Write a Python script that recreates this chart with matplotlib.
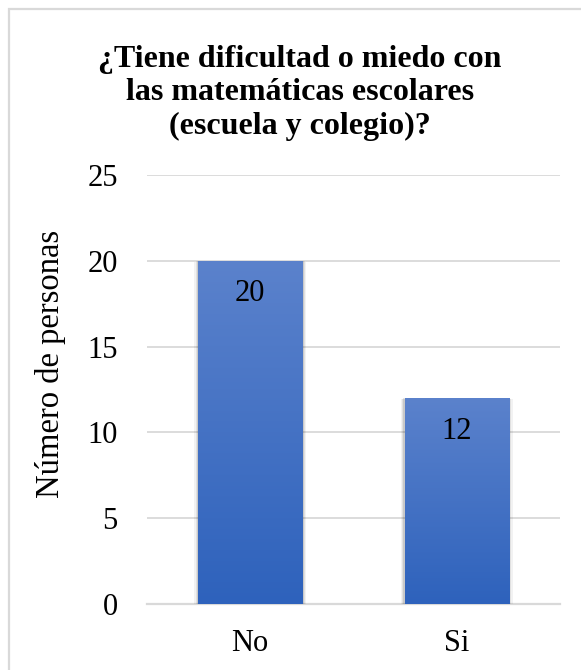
import matplotlib
matplotlib.use("Agg")
import matplotlib.pyplot as plt
import numpy as np
from matplotlib.patches import Rectangle
from matplotlib.colors import LinearSegmentedColormap

categories = ["No", "Si"]
values = [20, 12]
yticks = [0, 5, 10, 15, 20, 25]
title = "¿Tiene dificultad o miedo con\nlas matemáticas escolares\n(escuela y colegio)?"
ylabel = "Número de personas"

plt.rcParams['font.family'] = ['Liberation Serif', 'DejaVu Serif']

W, H = 581, 670
fig = plt.figure(figsize=(W/100, H/100), dpi=100)
ax = fig.add_axes([147/W, 1-604/H, (560-147)/W, (604-175)/H])

# figure border (left/top visible)
fig.patches.append(Rectangle((9/W, -0.1), 1.2, (1-9/H)+0.1, transform=fig.transFigure,
                             fill=False, edgecolor='#D9D9D9', linewidth=1.6, zorder=0))

x = np.arange(len(categories))
width = 0.505
cmap = LinearSegmentedColormap.from_list('g', ['#2E62BC', '#5B82CC'])
grad = np.linspace(0, 1, 256).reshape(-1, 1)

bars = ax.bar(x, values, width=width, color='#3A6BC2', zorder=3, linewidth=0)
for b in bars:
    bx, by = b.get_x(), b.get_y()
    bw, bh = b.get_width(), b.get_height()
    # shadow
    for d, a in [(0.03, 0.05), (0.02, 0.07), (0.01, 0.10)]:
        sh = Rectangle((bx - d*0.6, by - d*4), bw + 2*d*0.6, bh + d*2, facecolor='#000000',
                       alpha=a, linewidth=0, zorder=2)
        ax.add_patch(sh)
    im = ax.imshow(grad, cmap=cmap, origin='lower', aspect='auto',
                   extent=(bx, bx + bw, by, by + bh), zorder=3.5)
    im.set_clip_path(b)

for xi, v in zip(x, values):
    ax.annotate(str(v), (xi, v), xytext=(0, -33), textcoords='offset pixels',
                ha='center', va='center', fontsize=22, color='black', zorder=5)

ax.set_xlim(-0.5, 1.5)
ax.set_ylim(0, 25)
ax.set_yticks(yticks)
ax.set_xticks(x)
ax.set_xticklabels(categories)
ax.tick_params(axis='y', length=0, pad=21, labelsize=22)
ax.tick_params(axis='x', length=0, pad=18, labelsize=22)
ax.yaxis.grid(True, color='#D9D9D9', linewidth=1.3, zorder=0)
ax.set_axisbelow(True)
for s in ['top', 'right', 'left']:
    ax.spines[s].set_visible(False)
ax.spines['bottom'].set_color('#D9D9D9')
ax.spines['bottom'].set_linewidth(1.6)
ax.spines['bottom'].set_zorder(1)

ax.set_ylabel(ylabel, fontsize=23.5, va='center')
ax.yaxis.set_label_coords(-(147-50)/(560-147), (604-364)/(604-175))

fig.text(300/W, 1-93/H, title, ha='center', va='center', fontsize=23,
         fontweight='bold', linespacing=1.22)

fig.savefig('out.png', dpi=100)
